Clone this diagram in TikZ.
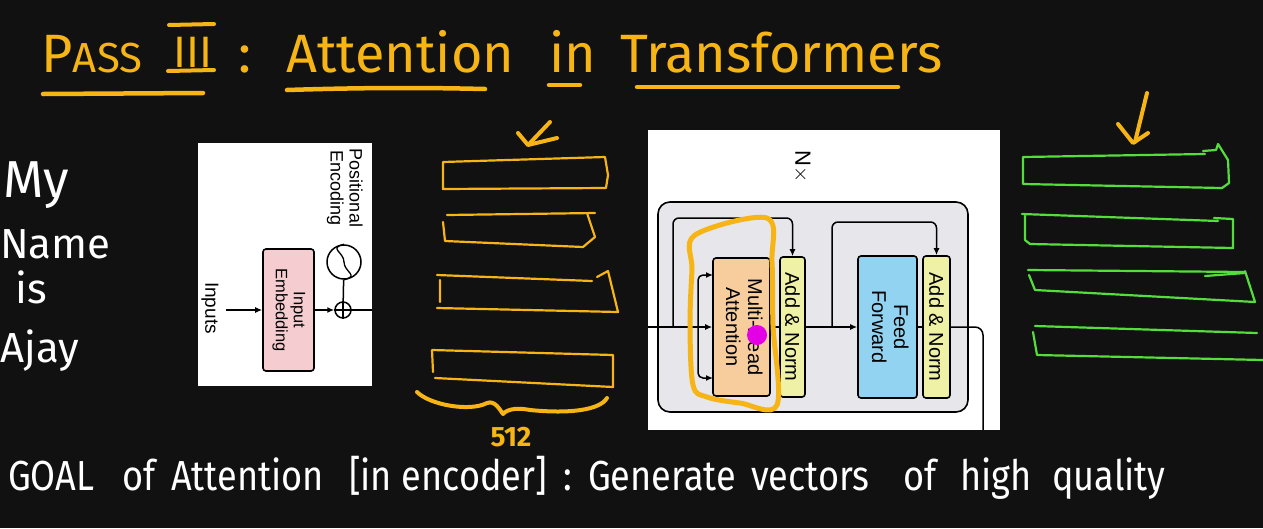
\documentclass[tikz,border=0pt]{standalone}
\usepackage{fontspec}
\setmainfont{Fira Sans}
\newfontfamily\diag{Liberation Sans}
\usetikzlibrary{arrows.meta}
\definecolor{bg}{HTML}{111111}
\definecolor{ycol}{HTML}{F6B514}
\definecolor{gcol}{HTML}{55DD3C}
\definecolor{pinkf}{HTML}{F5CDD0}
\definecolor{orgf}{HTML}{F8CD9E}
\definecolor{ygf}{HTML}{EEF1A6}
\definecolor{bluef}{HTML}{92D3F1}
\definecolor{grayf}{HTML}{E6E6EB}
\definecolor{mag}{HTML}{E400E4}
\begin{document}
\begin{tikzpicture}[x=1pt,y=-1pt,
  ttl/.style={text=ycol, inner sep=0, anchor=base west, font=\fontsize{54}{54}\selectfont},
  hand/.style={text=white, inner sep=0, anchor=base west, font=\fontsize{42}{42}\selectfont},
  btxt/.style={hand, xscale=0.86, transform shape},
  ul/.style={draw=ycol, line width=4.5pt, line cap=round},
  vecY/.style={draw=ycol, line width=2.2pt, line join=round, line cap=round},
  vecG/.style={draw=gcol, line width=2.2pt, line join=round, line cap=round},
  ystroke/.style={draw=ycol, line width=4pt, line join=round, line cap=round},
  panel/.style={fill=white, draw=none, inner sep=0},
  box/.style={draw=black, line width=1.6pt, rounded corners=3pt, inner sep=0, align=center},
  wire/.style={draw=black, line width=1.5pt},
  arr/.style={wire, -{Latex[length=7pt,width=6pt]}},
  dtext/.style={inner sep=0, align=center}
]
\fill[bg] (0,0) rectangle (1263,528);
\useasboundingbox (0,0) rectangle (1263,528);

% ---------- title ----------
\node[ttl] (tP) at (41,72) {P};
\node[ttl, font=\fontsize{42}{42}\selectfont] (tASS) at (tP.base east) {ASS};
\node[ttl, font=\fontsize{44}{44}\selectfont] (tIII) at (173,67) {III};
\node[ttl] (tcolon) at (238,72) {:};
\node[ttl] (tAtt) at (286,72) {Attention};
\node[ttl] (tin) at (549,72) {in};
\node[ttl] (tTr) at (620,72) {Transformers};
\draw[ul] (43,94) -- (203,93);
\draw[ul, line width=4pt] (169,25) -- (214,24);
\draw[ul, line width=4pt] (168,71) -- (214,70);
\draw[ul] (287,90) .. controls (380,87) and (440,88) .. (485,89);
\draw[ul] (549,85) -- (580,85);
\draw[ul] (637,87) -- (898,87);

% ---------- words ----------
\node[hand, font=\fontsize{52}{52}\selectfont] (wMy) at (3,197) {My};
\node[hand] (wName) at (0,258) {Name};
\node[hand] (wis) at (15,303) {is};
\node[hand] (wAjay) at (0,362) {Ajay};

% ---------- panel 1: input embedding ----------
\node[panel, minimum width=174, minimum height=243] (p1) at (285,264.5) {};
\node[dtext, font=\diag\fontsize{18}{19}\selectfont] (posenc) at (344,188) {\rotatebox{-90}{\begin{tabular}{@{}c@{}}Positional\\Encoding\end{tabular}}};
\node[box, fill=pinkf, minimum width=51, minimum height=122, font=\diag\fontsize{16.5}{18}\selectfont] (emb) at (288.5,310) {\rotatebox{-90}{\begin{tabular}{@{}c@{}}Input\\Embedding\end{tabular}}};
\node[dtext, font=\diag\fontsize{19}{20}\selectfont] (inputs) at (210,308) {\rotatebox{-90}{Inputs}};
\node[circle, draw=black, line width=1.5pt, minimum size=34, inner sep=0] (pe) at (344,262) {};
\node[circle, draw=black, line width=1.5pt, minimum size=16, inner sep=0] (plus) at (343,310) {};
\draw[line width=1.3pt] (pe.north) .. controls +(-16,4) and +(0,-10) .. (pe.center) .. controls +(0,10) and +(16,-4) .. (pe.south);
\draw[line width=1.3pt] (plus.north) -- (plus.south) (plus.west) -- (plus.east);
\coordinate (inp) at (226,310);
\coordinate (o1) at (372,310);
\draw[arr] (inp) -- (emb);
\draw[arr] (emb) -- (plus);
\draw[wire] (pe) -- (plus);
\draw[wire] (plus) -- (o1);

% ---------- panel 2: encoder block ----------
\node[panel, minimum width=352, minimum height=300] (p2) at (824,280) {};
\node[dtext, font=\diag\fontsize{22}{22}\selectfont] (nx) at (802,167) {\rotatebox{-90}{N$\times$}};
\node[draw=black, line width=1.6pt, fill=grayf, rounded corners=12pt, minimum width=310, minimum height=210, inner sep=0] (blk) at (813,307) {};
\node[box, fill=orgf, minimum width=57, minimum height=138, font=\diag\fontsize{20}{22}\selectfont] (mha) at (741.5,327) {\rotatebox{-90}{\begin{tabular}{@{}c@{}}Multi-Head\\Attention\end{tabular}}};
\node[box, fill=ygf, minimum width=25, minimum height=140, font=\diag\fontsize{20}{22}\selectfont] (an1) at (792.5,327) {\rotatebox{-90}{Add \& Norm}};
\node[box, fill=bluef, minimum width=59, minimum height=142, font=\diag\fontsize{20}{22}\selectfont] (ff) at (887.5,327) {\rotatebox{-90}{\begin{tabular}{@{}c@{}}Feed\\Forward\end{tabular}}};
\node[box, fill=ygf, minimum width=27, minimum height=142, font=\diag\fontsize{20}{22}\selectfont] (an2) at (936.5,327) {\rotatebox{-90}{Add \& Norm}};
\coordinate (in2) at (648,327);
\coordinate (br1) at (673,327);
\coordinate (top1) at (792.5,218);
\coordinate (sp) at (698,327);
\coordinate (q1) at (713,275);
\coordinate (q3) at (713,378);
\coordinate (br2) at (832,327);
\coordinate (top2) at (936.5,222);
\coordinate (out) at (983,430);
\draw[arr] (in2) -- (in2 -| mha.west);
\draw[arr, rounded corners=6pt] (br1) |- (top1) -- (an1.north);
\draw[arr, rounded corners=5pt] (sp) |- (q1);
\draw[arr, rounded corners=5pt] (sp) |- (q3);
\draw[wire] (mha) -- (an1);
\draw[arr] (an1) -- (ff);
\draw[arr, rounded corners=6pt] (br2) |- (top2) -- (an2.north);
\draw[wire] (ff) -- (an2);
\draw[wire, rounded corners=8pt] (an2.east) -| (out);

% highlight and pointer
\draw[ystroke, line width=5pt] plot[smooth cycle, tension=0.55] coordinates {(695,235) (767,218) (772,262) (773,325) (777,405) (740,403) (707,397) (693,385) (690,325) (692,270)};
\node[circle, fill=mag, minimum size=20, inner sep=0] (dot) at (757,335) {};

% ---------- yellow vectors ----------
\draw[vecY] (443,162) -- (605,157) -- (608,175) -- (606,188) -- (443,189) -- cycle;
\draw[vecY] (447,215) -- (595,213) (587,213) -- (595,237) -- (583,247) -- (445,241) -- (443,222);
\draw[vecY] (437,275) -- (592,281) (597,277) -- (608,271) -- (618,312) -- (437,308) (440,280) -- (440,302);
\draw[vecY] (432,350) -- (613,355) -- (613,387) -- (435,378) (432,350) -- (433,372);
\draw[ystroke] (417,392) .. controls (430,405) and (470,412) .. (487,403) .. controls (495,400) and (500,410) .. (503,414) .. controls (508,408) and (520,408) .. (530,410) .. controls (570,414) and (600,410) .. (607,398);
\node[text=ycol, inner sep=0, font=\fontsize{28}{28}\bfseries] (n512) at (511,437) {512};
\draw[ystroke] (550,122) -- (530,143);
\draw[ystroke] (518,133) -- (528,145) -- (557,138);

% ---------- green vectors ----------
\draw[vecG] (1023,157) -- (1205,154) (1203,151) -- (1216,150) -- (1218,144) -- (1228,160) -- (1229,183) -- (1222,188) -- (1023,184) -- (1023,157);
\draw[vecG] (1022,214) -- (1218,221) (1214,218) -- (1233,219) -- (1233,248) -- (1030,244) -- (1025,240) -- (1025,216);
\draw[vecG] (1028,270) -- (1245,272) (1205,276) -- (1245,273) (1245,271) -- (1255,302) -- (1035,290) -- (1029,275);
\draw[vecG] (1035,326) -- (1257,333) (1033,332) -- (1037,355) -- (1263,360);
\draw[ystroke] (1147,93) -- (1135,142);
\draw[ystroke] (1118,124) -- (1133,143) -- (1148,133);

% ---------- bottom sentence ----------
\node[btxt] (b1) at (8,490) {GOAL};
\node[btxt] (b2) at (122,490) {of};
\node[btxt] (b3) at (171,490) {Attention};
\node[btxt] (b4) at (349,490) {[in encoder]};
\node[btxt] (b5) at (563,490) {:};
\node[btxt] (b6) at (588,490) {Generate};
\node[btxt] (b7) at (751,490) {vectors};
\node[btxt] (b8) at (903,490) {of};
\node[btxt] (b9) at (960,490) {high};
\node[btxt] (b10) at (1052,490) {quality};
\end{tikzpicture}
\end{document}
